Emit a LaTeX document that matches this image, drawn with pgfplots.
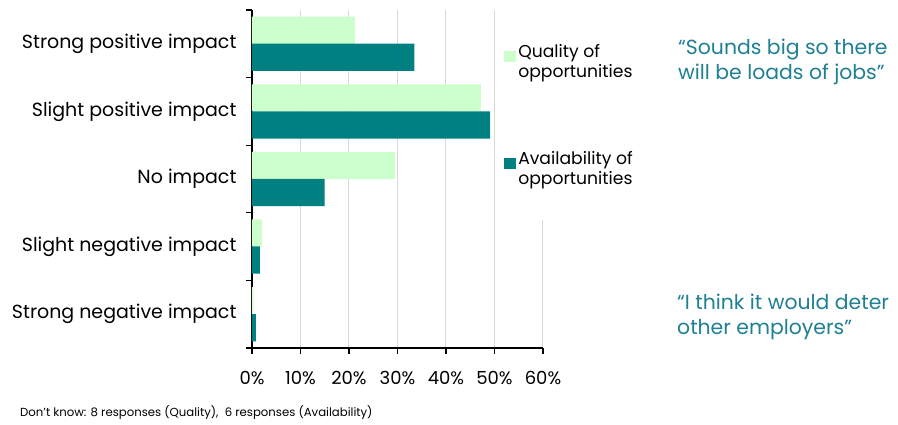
\documentclass[border=0pt]{standalone}
\usepackage{fontspec}
\setmainfont{Poppins}
\usepackage{pgfplots}
\pgfplotsset{compat=1.18}
\definecolor{qual}{HTML}{CCFFCC}
\definecolor{avail}{HTML}{008080}
\definecolor{quotec}{HTML}{1F7F93}
\definecolor{gridc}{HTML}{D9D9D9}

\begin{document}
\begin{tikzpicture}
\useasboundingbox (0,0) rectangle (898pt,425pt);
\begin{axis}[
    at={(252pt,77pt)}, anchor=south west,
    scale only axis, width=291pt, height=338pt,
    xbar, bar width=0.403,
    xmin=0, xmax=60, ymin=-0.5, ymax=4.5,
    axis lines=left, axis line style={-, line width=1.2pt},
    tick align=outside, major tick length=6pt,
    tick style={black, line width=1.2pt},
    xtick={0,10,...,60},
    xticklabel={\pgfmathprintnumber[assume math mode=true]{\tick}\%},
    xmajorgrids, grid style={gridc, line width=1pt},
    ytick={-0.5,0.5,...,4.5}, yticklabels={},
    extra y ticks={0,1,2,3,4},
    extra y tick labels={Strong negative impact, Slight negative impact\hspace{6pt}, No impact, Slight positive impact, Strong positive impact},
    extra y tick style={major tick length=0pt, ymajorgrids=false},
    yticklabel style={font=\fontsize{19}{22}\selectfont, text=black, xshift=-12pt},
    xticklabel style={font=\fontsize{18}{21}\selectfont, text=black, yshift=-14pt},
    legend style={at={(0.849,1)}, anchor=north west, draw=none, fill=white,
        inner xsep=5pt, inner ysep=32pt, row sep=68pt,
        font=\fontsize{17.2}{20.5}\selectfont, nodes={align=left}},
    legend cell align=left,
    legend image code/.code={\fill[#1] (0pt,0pt) rectangle (12pt,11pt);},
]
\addplot[fill=qual, draw=none, bar shift=0.2] coordinates {
    (21.2,4) (47.2,3) (29.5,2) (2.1,1) (0.3,0)
};
\addlegendentry{Quality of\\opportunities}
\addplot[fill=avail, draw=none, bar shift=-0.2] coordinates {
    (33.5,4) (49.1,3) (15.0,2) (1.6,1) (0.8,0)
};
\addlegendentry{Availability of\\opportunities}
\end{axis}
\begin{scope}[every node/.style={anchor=base west, inner sep=0pt, text=quotec, font=\fontsize{20.4}{25}\selectfont}]
\node at (678pt,370pt) {“Sounds big so there};
\node at (678pt,345pt) {will be loads of jobs”};
\node at (677pt,115pt) {“I think it would deter};
\node at (677pt,90pt) {other employers”};
\end{scope}
\node[anchor=base west, inner sep=0pt, font=\fontsize{11.7}{14}\selectfont] at (20pt,8pt)
    {Don’t know: 8 responses (Quality),\ \ 6 responses (Availability)};
\end{tikzpicture}
\end{document}
